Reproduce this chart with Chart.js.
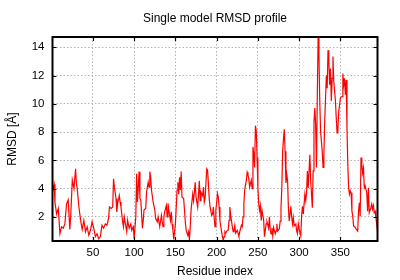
<!DOCTYPE html>
<html>
<head>
<meta charset="utf-8">
<script src="https://cdn.jsdelivr.net/npm/chart.js@4.4.0/dist/chart.umd.min.js"></script>
<style>
  html, body { margin: 0; padding: 0; background: #fff; }
</style>
</head>
<body>
<canvas id="rmsdChart" width="400" height="280"></canvas>
<script>
// residue numbers and RMSD values
const residues = [
  1, 3, 4, 6, 8, 10, 12, 14, 16, 18, 20, 22, 23, 25, 27, 29, 30, 31, 33, 35,
  37, 39, 41, 43, 45, 47, 49, 51, 53, 55, 57, 59, 61, 63, 65,
  67, 69, 70, 72, 74, 75, 76, 78, 79, 80, 82, 83, 84, 86, 87, 88, 90, 91, 92, 94,
  96, 97, 99, 100, 102, 103, 104, 106, 107, 108, 110, 111, 112, 114, 115, 117, 118,
  119, 120, 121, 123, 125, 126, 128, 129, 131,
  133, 134, 135, 136, 137, 139, 140, 141, 142, 144, 145, 146, 147, 148, 150, 151,
  152, 153, 154, 155, 156, 157, 158, 160, 161, 162, 163, 165, 166, 167, 168, 169,
  171, 172, 173, 174, 175, 177, 178, 179, 180, 181, 183, 184, 185, 186, 188, 189,
  190, 191, 192, 194, 195, 196, 197, 198,
  199, 200, 201, 202, 203, 204, 205, 207, 208, 209, 210, 211, 213, 214, 215, 216,
  217, 219, 220, 221, 222, 223, 225, 226, 227, 228, 230, 231, 232, 233, 234, 236,
  237, 238, 239, 240, 242, 243, 244, 245, 246, 247, 248, 249, 250, 251, 252, 253,
  254, 255, 257, 258, 259, 260, 261, 263, 264,
  265, 266, 267, 268, 269, 271, 272, 273, 274, 276, 277, 278, 279, 280, 281, 282,
  283, 284, 285, 286, 287, 288, 290, 291, 292, 293, 294, 296, 297, 298, 299, 300,
  302, 303, 304, 305, 307, 308, 309, 310, 311, 313, 314, 315, 316, 317, 318, 319,
  320, 321, 322, 323, 324, 325, 326, 328, 329, 330,
  331, 332, 333, 334, 335, 336, 337, 338, 339, 340, 341, 342, 344, 345, 346, 347,
  348, 350, 351, 352, 353, 354, 355, 356, 357, 358, 359, 360, 361, 362, 363, 364,
  365, 366, 368, 369, 371, 372, 373, 374, 375, 376, 377, 378, 379, 380, 382, 383,
  384, 385, 387, 388, 389, 390, 391, 392, 393, 395
];

const rmsd = [
  3.8, 4.3, 3.0, 2.2, 2.6, 0.8, 1.3, 1.2, 1.5, 2.9, 3.2, 1.1, 2.0, 4.6, 4.0, 5.4, 4.35, 4.0, 2.7, 1.8,
  1.1, 1.75, 0.95, 1.3, 0.7, 1.05, 1.65, 1.2, 0.6, 0.8, 0.45, 0.6, 1.4, 1.2, 1.5,
  1.4, 1.9, 2.7, 2.6, 2.7, 4.7, 4.1, 3.3, 2.35, 2.95, 3.5, 3.05, 2.7, 1.65, 1.3, 2.0, 1.3, 0.95, 1.75, 1.2,
  1.5, 1.05, 1.3, 0.45, 2.0, 5.05, 3.05, 5.2, 3.3, 3.2, 1.2, 1.75, 2.5, 2.6, 3.75, 4.45, 4.1,
  5.2, 4.8, 3.9, 3.05, 2.5, 1.9, 1.65, 2.0, 1.3,
  2.1, 1.65, 1.3, 2.0, 2.35, 2.8, 2.0, 2.95, 2.5, 1.75, 2.35, 1.5, 1.05, 0.4, 1.5, 2.7,
  3.9, 4.45, 3.6, 4.8, 3.9, 5.2, 3.4, 3.3, 2.5, 1.65, 1.05, 0.7, 0.95, 0.35, 1.3, 2.5,
  3.6, 3.15, 3.75, 4.45, 3.4, 2.7, 3.6, 4.55, 3.15, 3.75, 3.5, 4.1, 3.05, 3.3, 5.4, 5.3,
  4.35, 3.3, 2.7, 2.1, 2.2, 2.7, 1.9, 1.3,
  2.5, 3.0, 3.65, 3.4, 2.7, 1.75, 1.3, 0.6, 0.35, 0.6, 0.95, 0.85, 1.05, 1.05, 1.75, 2.7,
  2.1, 1.3, 0.95, 1.05, 1.4, 0.85, 1.05, 0.85, 0.6, 0.95, 1.4, 1.3, 2.0, 2.95, 3.9, 4.6,
  5.15, 4.95, 4.7, 4.1, 4.6, 4.0, 6.95, 6.45, 5.5, 8.45, 8.1, 6.2, 4.1, 2.95, 2.45, 2.8,
  1.75, 2.45, 1.75, 0.6, 1.05, 1.5, 1.65, 1.2, 2.0,
  1.05, 0.8, 1.2, 0.65, 1.25, 0.8, 1.0, 1.5, 1.0, 1.15, 1.7, 2.65, 4.05, 6.65, 7.5, 8.2,
  6.65, 4.4, 5.0, 4.55, 2.65, 1.7, 2.75, 1.95, 1.5, 1.95, 1.35, 1.5, 1.0, 0.8, 1.5, 1.15,
  0.65, 2.05, 2.75, 2.2, 3.6, 3.15, 3.7, 5.25, 4.05, 6.4, 4.55, 3.6, 2.65, 5.25, 8.75, 9.7,
  8.5, 5.5, 10.5, 14.73, 13.45, 10.2, 8.05, 6.65, 5.5, 6.4,
  8.75, 10.4, 12.0, 11.1, 13.8, 13.0, 11.35, 12.5, 10.2, 11.8, 13.35, 11.6, 10.2, 9.0, 7.95, 8.3,
  9.45, 10.4, 10.5, 10.5, 12.15, 11.35, 11.8, 10.65, 11.7, 8.3, 5.7, 4.05, 3.6, 3.85, 3.7, 2.4,
  2.05, 1.35, 1.25, 1.15, 1.0, 2.4, 3.0, 2.05, 6.2, 5.7, 5.1, 5.45, 4.05, 4.2, 3.7, 2.4,
  4.05, 2.3, 2.65, 2.9, 2.55, 2.8, 2.3, 2.4, 2.0, 1.0
];

const xTicks = [50, 100, 150, 200, 250, 300, 350];
const yTicks = [2, 4, 6, 8, 10, 12, 14];

const titleText = "Single model RMSD profile";
const xLabel = "Residue index";
const yLabel = "RMSD [Å]";

const fontFamily = "'Liberation Sans', Arial, sans-serif";

// gnuplot style frame: border, inward ticks on all sides, title and axis labels
const gnuplotFrame = {
  id: "gnuplotFrame",
  afterDraw(chart) {
    const { ctx, chartArea: a } = chart;
    const x = chart.scales.x, y = chart.scales.y;
    const tick = 4;
    ctx.save();
    ctx.strokeStyle = "#000";
    ctx.lineWidth = 1.2;
    ctx.beginPath();
    xTicks.forEach(v => {
      const px = Math.round(x.getPixelForValue(v)) + 0.5;
      ctx.moveTo(px, a.bottom); ctx.lineTo(px, a.bottom - tick);
      ctx.moveTo(px, a.top); ctx.lineTo(px, a.top + tick);
    });
    yTicks.forEach(v => {
      const py = Math.round(y.getPixelForValue(v)) + 0.5;
      ctx.moveTo(a.left, py); ctx.lineTo(a.left + tick, py);
      ctx.moveTo(a.right, py); ctx.lineTo(a.right - tick, py);
    });
    ctx.stroke();

    ctx.lineWidth = 2;
    ctx.strokeRect(a.left, a.top, a.right - a.left, a.bottom - a.top);

    ctx.fillStyle = "#000";
    ctx.font = "12px " + fontFamily;
    ctx.textAlign = "center";
    ctx.textBaseline = "alphabetic";
    const cx = (a.left + a.right) / 2;
    ctx.fillText(titleText, cx, 22);
    ctx.fillText(xLabel, cx, 275);
    ctx.translate(16, (a.top + a.bottom) / 2);
    ctx.rotate(-Math.PI / 2);
    ctx.fillText(yLabel, 0, 0);
    ctx.restore();
  }
};

const ctx = document.getElementById("rmsdChart").getContext("2d");

new Chart(ctx, {
  type: "line",
  data: {
    datasets: [{
      data: residues.map((r, i) => ({ x: r, y: rmsd[i] })),
      borderColor: "#ff0000",
      borderWidth: 1.2,
      pointRadius: 0,
      tension: 0,
      fill: false
    }]
  },
  options: {
    responsive: false,
    animation: false,
    events: [],
    layout: { padding: { left: 0, right: 22.5, top: 37, bottom: 0 } },
    plugins: {
      legend: { display: false },
      tooltip: { enabled: false },
      title: { display: false }
    },
    scales: {
      x: {
        type: "linear",
        min: 1,
        max: 395,
        afterBuildTicks: s => { s.ticks = xTicks.map(v => ({ value: v })); },
        afterFit: s => { s.height = 39; },
        grid: { color: "#b4b4b4", lineWidth: 1, drawTicks: false },
        border: { display: false, dash: [1.5, 2] },
        ticks: {
          color: "#000",
          font: { family: fontFamily, size: 11.5 },
          padding: 5,
          maxRotation: 0,
          autoSkip: false
        }
      },
      y: {
        type: "linear",
        min: 0.29,
        max: 14.73,
        afterBuildTicks: s => { s.ticks = yTicks.map(v => ({ value: v })); },
        afterFit: s => { s.width = 52.5; },
        grid: { color: "#b4b4b4", lineWidth: 1, drawTicks: false },
        border: { display: false, dash: [1.5, 2] },
        ticks: {
          color: "#000",
          font: { family: fontFamily, size: 11.5 },
          padding: 8,
          autoSkip: false
        }
      }
    }
  },
  plugins: [gnuplotFrame]
});
</script>
</body>
</html>
